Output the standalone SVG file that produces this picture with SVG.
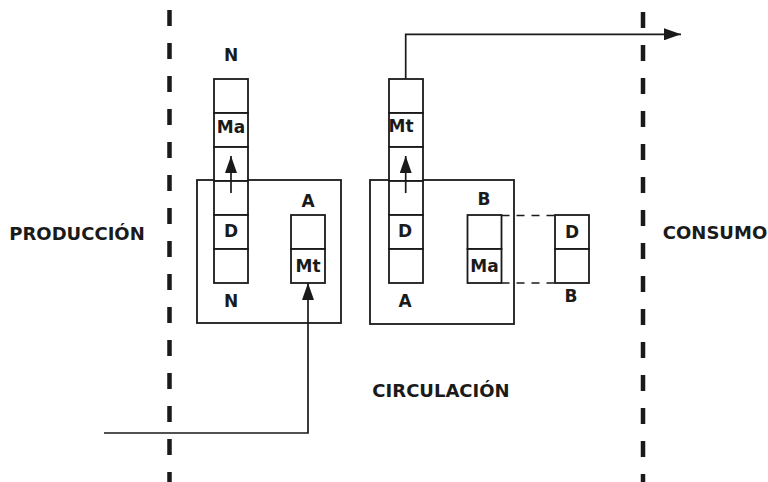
<svg xmlns="http://www.w3.org/2000/svg" width="768" height="482" viewBox="0 0 768 482">
<defs>
<style>
.sep{stroke:#1a1a1a;stroke-width:4.5;stroke-dasharray:16 17;fill:none}
.box{fill:none;stroke:#1a1a1a;stroke-width:1.8}
.cell{fill:#fff;stroke:#1a1a1a;stroke-width:1.8}
.ln{fill:none;stroke:#1a1a1a;stroke-width:1.7}
.dl{fill:none;stroke:#1a1a1a;stroke-width:1.5;stroke-dasharray:8 7}
text{font-family:"DejaVu Sans","Liberation Sans",sans-serif;font-weight:bold;fill:#1a1a1a;text-anchor:middle}
.big{font-size:18px}
.sm{font-size:17px}
</style>
<marker id="ah" viewBox="0 0 17 12" refX="17" refY="6" markerWidth="17" markerHeight="12" markerUnits="userSpaceOnUse" orient="auto">
<path d="M0,0 L17,6 L0,12 Z" fill="#1a1a1a"/>
</marker>
</defs>
<rect width="768" height="482" fill="#fff"/>
<g id="separators">
<line class="sep" x1="169.5" y1="10" x2="169.5" y2="482"/>
<line class="sep" x1="643" y1="12" x2="643" y2="482"/>
</g>
<g id="labels">
<text class="big" x="77" y="240">PRODUCCIÓN</text>
<text class="big" x="715" y="239">CONSUMO</text>
<text class="big" x="441" y="397">CIRCULACIÓN</text>
</g>
<g id="box-left">
<rect class="box" x="197" y="180" width="144" height="143"/>
</g>
<g id="box-right">
<rect class="box" x="370" y="180" width="144" height="144"/>
</g>
<g id="column-N">
<rect class="cell" x="214" y="79" width="34" height="34"/>
<rect class="cell" x="214" y="113" width="34" height="34"/>
<rect class="cell" x="214" y="147" width="34" height="34"/>
<rect class="cell" x="214" y="181" width="34" height="34"/>
<rect class="cell" x="214" y="215" width="34" height="34"/>
<rect class="cell" x="214" y="249" width="34" height="34"/>
<text class="sm" x="231" y="61">N</text>
<text class="sm" x="231" y="133">Ma</text>
<text class="sm" x="231" y="237">D</text>
<text class="sm" x="231" y="307">N</text>
</g>
<g id="column-A-left">
<rect class="cell" x="291" y="215" width="34" height="34"/>
<rect class="cell" x="291" y="249" width="34" height="34"/>
<text class="sm" x="308" y="207">A</text>
<text class="sm" x="308" y="272">Mt</text>
</g>
<g id="column-A-right">
<rect class="cell" x="389" y="79" width="34" height="34"/>
<rect class="cell" x="389" y="113" width="34" height="34"/>
<rect class="cell" x="389" y="147" width="34" height="34"/>
<rect class="cell" x="389" y="181" width="34" height="34"/>
<rect class="cell" x="389" y="215" width="34" height="34"/>
<rect class="cell" x="389" y="249" width="34" height="34"/>
<text class="sm" x="401" y="132">Mt</text>
<text class="sm" x="405" y="237">D</text>
<text class="sm" x="405" y="307">A</text>
</g>
<g id="column-B">
<rect class="cell" x="467.5" y="215" width="34" height="34"/>
<rect class="cell" x="467.5" y="249" width="34" height="34"/>
<text class="sm" x="484" y="205">B</text>
<text class="sm" x="484.5" y="272">Ma</text>
</g>
<g id="column-B-out">
<rect class="cell" x="555" y="215" width="34" height="34"/>
<rect class="cell" x="555" y="249" width="34" height="34"/>
<text class="sm" x="572" y="238">D</text>
<text class="sm" x="571" y="302">B</text>
</g>
<g id="connectors">
<line class="ln" x1="231" y1="193" x2="231" y2="156" marker-end="url(#ah)"/>
<line class="ln" x1="405.7" y1="193" x2="405.7" y2="156" marker-end="url(#ah)"/>
<polyline class="ln" points="104,433 308,433 308,283" marker-end="url(#ah)"/>
<polyline class="ln" points="405.7,79 405.7,34.3 681,34.3" marker-end="url(#ah)"/>
<line class="dl" x1="501.5" y1="215.5" x2="555" y2="215.5"/>
<line class="dl" x1="501.5" y1="283" x2="555" y2="283"/>
</g>
</svg>
